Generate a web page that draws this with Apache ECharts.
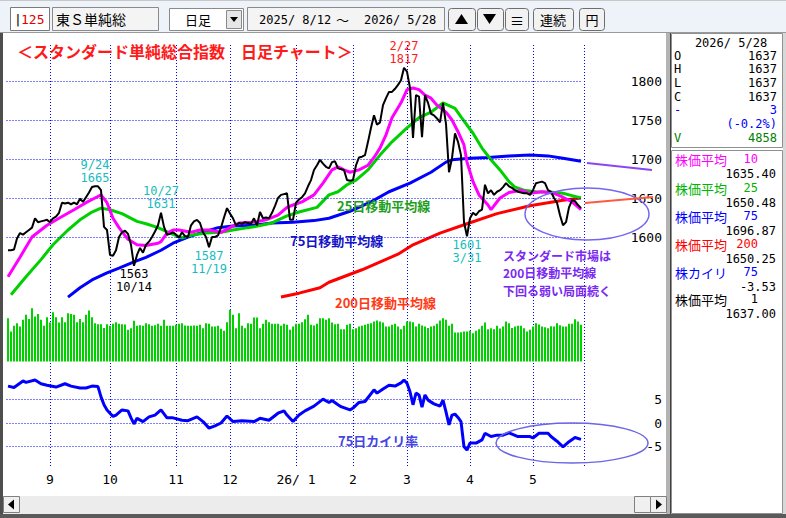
<!DOCTYPE html>
<html><head><meta charset="utf-8">
<script src="https://cdn.jsdelivr.net/npm/echarts@6/dist/echarts.min.js"></script>
<style>html,body{margin:0;padding:0;background:#fff;}#c{width:786px;height:518px;}</style>
</head><body><div id="c"></div>
<script>
// ---- trading days (categories) ----
const monthDays = [
 ['2025/8', [12,13,14,15,18,19,20,21,22,25,26,27,28,29]],
 ['2025/9', [1,2,3,4,5,8,9,10,11,12,16,17,18,19,22,24,25,26,29,30]],
 ['2025/10',[1,2,3,6,7,8,9,10,14,15,16,17,20,21,22,23,24,27,28,29,30,31]],
 ['2025/11',[4,5,6,7,10,11,12,13,14,17,18,19,20,21,25,26,27,28]],
 ['2025/12',[1,2,3,4,5,8,9,10,11,12,15,16,17,18,19,22,23,24,25,26,29,30]],
 ['2026/1', [5,6,7,8,9,13,14,15,16,19,20,21,22,23,26,27,28,29,30]],
 ['2026/2', [2,3,4,5,6,9,10,12,13,16,17,18,19,20,24,25,26,27]],
 ['2026/3', [2,3,4,5,6,9,10,11,12,13,16,17,18,19,23,24,25,26,27,30,31]],
 ['2026/4', [1,2,3,6,7,8,9,10,13,14,15,16,17,20,21,22,23,24,27,28,30]],
 ['2026/5', [1,7,8,11,12,13,14,15,18,19,20,21,22,25,26,27,28]]
];
const monthLabels = ['9','10','11','12','26/ 1','2','3','4','5'];
const priceTicks = [1600,1650,1700,1750,1800];
const devTicks = [5,0,-5];

// ---- close prices (one per trading day) ----
const close = [
1583,1583,1584,1598,1605,1603,1606,1609,1612,1624,
1619,1620,1621,1622,1619,1624,1626,1631,1644,1643,
1644,1642,1644,1642,1649,1645,1651,1657,1664,1665,
1665,1660,1613,1609,1577,1576,1583,1600,1606,1608,
1604,1590,1563,1577,1586,1580,1590,1594,1600,1607,
1615,1631,1613,1603,1604,1606,1603,1599,1606,1601,
1600,1615,1620,1622,1618,1606,1600,1587,1600,1600,
1602,1612,1625,1637,1630,1624,1615,1618,1617,1619,
1618,1617,1624,1615,1632,1624,1625,1624,1631,1640,
1650,1654,1655,1656,1622,1622,1644,1648,1651,1656,
1665,1673,1686,1692,1699,1694,1690,1688,1696,1697,
1688,1687,1686,1673,1672,1673,1692,1702,1703,1705,
1722,1740,1756,1744,1747,1769,1778,1786,1786,1790,
1795,1801,1817,1812,1791,1727,1782,1780,1728,1782,
1772,1758,1756,1752,1747,1772,1745,1683,1701,1733,
1722,1705,1619,1601,1624,1631,1628,1633,1635,1667,
1656,1660,1654,1658,1660,1664,1669,1665,1663,1660,
1658,1657,1656,1656,1654,1660,1669,1670,1671,1669,
1660,1658,1650,1644,1628,1615,1619,1638,1647,1646,
1641,1637];

// ---- moving averages [dayIndex, value] ----
const ma10 = [[0,1549],[4,1574],[8,1600],[13,1615],[17,1624],[22,1635],[26,1644],[29,1650],[31,1654],[33,1644],[35,1624],[37,1612],[40,1597],[43,1590],[46,1589],[50,1592],[51,1594],[53,1605],[55,1609],[57,1609],[61,1606],[64,1609],[67,1609],[71,1606],[74,1612],[77,1618],[82,1619],[86,1622],[90,1628],[93,1638],[95,1641],[98,1645],[102,1654],[105,1669],[108,1686],[110,1690],[112,1686],[114,1683],[117,1686],[120,1692],[122,1702],[124,1714],[126,1731],[128,1753],[131,1772],[133,1789],[135,1791],[137,1789],[139,1782],[141,1778],[143,1769],[146,1760],[148,1750],[150,1735],[152,1718],[153,1696],[155,1671],[157,1654],[160,1641],[161,1635],[164,1650],[167,1657],[171,1660],[174,1656],[178,1658],[182,1656],[185,1651],[188,1645],[191,1635]];
const ma25 = [[1,1526],[6,1549],[11,1571],[15,1590],[20,1609],[24,1622],[28,1632],[31,1637],[34,1635],[38,1630],[43,1620],[46,1617],[50,1612],[54,1605],[58,1599],[62,1603],[66,1605],[71,1606],[75,1609],[80,1612],[82,1613],[88,1618],[93,1627],[97,1632],[103,1638],[107,1654],[110,1658],[113,1667],[116,1673],[120,1686],[124,1705],[128,1722],[133,1740],[137,1753],[141,1760],[145,1772],[149,1765],[151,1754],[155,1733],[158,1714],[161,1699],[164,1686],[167,1671],[169,1664],[172,1660],[176,1658],[183,1657],[185,1656],[188,1653],[191,1650]];
const ma75 = [[20,1523],[24,1535],[28,1545],[33,1554],[37,1560],[42,1568],[46,1574],[51,1583],[55,1592],[60,1600],[64,1605],[70,1612],[75,1614],[82,1615],[88,1618],[95,1619],[102,1621],[107,1624],[114,1633],[121,1645],[127,1658],[134,1669],[141,1683],[146,1696],[148,1699],[154,1701],[160,1702],[167,1704],[174,1705],[180,1704],[185,1701],[191,1697]];
const ma200 = [[91,1523],[97,1528],[104,1535],[107,1542],[118,1558],[130,1578],[135,1590],[144,1605],[153,1617],[163,1630],[174,1640],[185,1647],[191,1650]];

// ---- volume ----
const volume = [
5720,3960,4710,5060,4620,5500,6160,5630,7040,5940,
6290,5500,4710,5850,5150,6510,5850,5150,5850,5190,
6380,6290,6160,5190,5630,5190,6160,6730,5850,5060,
4930,4930,4440,4930,4710,4970,5190,4970,4930,4880,
4180,4400,5370,4710,4800,4710,5060,4930,4710,4800,
4970,4710,5500,4710,4710,4710,4840,4970,5060,4750,
4710,4710,4750,4710,4840,4400,5060,4970,4620,4620,
4710,4310,4050,5190,6820,6160,4400,6380,4710,4400,
5060,4970,5810,5810,4400,4970,5500,5190,4970,4970,
4970,4710,4970,4840,4180,4620,4970,4970,5190,5590,
6160,4840,4750,4970,5720,5720,5500,
5720,5150,4930,4970,4270,4270,4840,4970,4270,4400,
4620,4710,4840,4970,5060,5280,5410,5280,5150,4620,
4620,4840,4970,4620,4270,4710,5280,5280,5190,4620,
4970,4750,4620,4440,4620,4710,4970,5410,5720,5500,
4710,4970,3830,3830,3870,3960,3960,4050,3740,4050,
4270,4710,5150,4270,4400,4270,4710,4360,4620,5280,
5060,4440,4620,4710,4710,4400,3960,4180,4620,5060,
4880,4620,4530,4400,4660,4620,5060,4800,4620,4620,
4970,4970,5590,5280,4858];

// ---- 75-day deviation (%) [dayIndex, value] ----
const dev75 = [[0,7.9],[2,7.6],[5,9.0],[6,8.7],[9,9.2],[11,8.4],[13,8.1],[16,7.7],[19,8.4],[21,7.9],[24,7.5],[26,7.5],[28,7.9],[30,7.8],[31,5.6],[32,3.9],[33,2.8],[35,1.4],[36,1.7],[38,2.8],[40,2.6],[41,1.1],[42,-0.2],[43,1.0],[45,0.3],[47,1.3],[49,1.7],[51,2.8],[53,1.1],[55,1.1],[58,0.6],[60,0.5],[63,1.3],[65,0.3],[67,-1.1],[69,-0.6],[71,0.0],[73,1.5],[75,0.3],[78,0.5],[82,0.3],[84,1.0],[87,0.6],[90,2.1],[92,2.6],[93,1.7],[95,0.3],[97,1.7],[99,2.6],[102,3.6],[105,5.1],[107,4.4],[108,4.8],[110,3.9],[111,3.5],[114,2.8],[115,3.2],[117,4.4],[119,4.6],[122,7.1],[123,6.4],[125,7.3],[127,8.1],[129,7.9],[131,8.6],[132,9.2],[133,8.5],[134,6.7],[135,3.9],[136,6.4],[137,6.0],[138,3.4],[139,6.0],[140,4.9],[142,4.1],[144,3.6],[145,4.9],[146,2.4],[147,-0.4],[148,1.7],[149,1.9],[150,1.2],[151,0.3],[152,-5.1],[153,-5.8],[154,-4.3],[156,-4.3],[158,-3.6],[159,-2.2],[161,-2.9],[163,-2.6],[165,-2.6],[167,-2.1],[170,-2.9],[172,-2.9],[174,-2.9],[175,-3.2],[177,-2.2],[180,-2.2],[181,-2.9],[183,-3.9],[185,-5.1],[187,-4.0],[189,-3.1],[191,-3.5]];

// ---- peak / trough notes ----
const notes = [
 {date:'2025/9/24',  lines:['9/24','1665'],  side:'top',    color:'#18bcbc'},
 {date:'2025/10/14', lines:['1563','10/14'], side:'bottom', color:'#000000'},
 {date:'2025/10/27', lines:['10/27','1631'], side:'top',    color:'#18bcbc'},
 {date:'2025/11/19', lines:['1587','11/19'], side:'bottom', color:'#18bcbc'},
 {date:'2026/2/27',  lines:['2/27','1817'],  side:'top',    color:'#ff1a1a'},
 {date:'2026/3/31',  lines:['1601','3/31'],  side:'bottom', color:'#18bcbc'}
];

// ---- build categories ----
const categories = [];
const monthStartIdx = [];
monthDays.forEach(([ym, ds], m) => {
  if (m > 0) monthStartIdx.push(categories.length);
  ds.forEach(d => categories.push(ym + '/' + d));
});

const JP = "'Noto Sans CJK JP', sans-serif";
const NUM = "'DejaVu Sans Mono', monospace";
const dotted = {color:'#0000ff', width:1, type:[1,2]};

const chart = echarts.init(document.getElementById('c'), null, {renderer:'svg', width:786, height:518});

function gridLines(vals){
  return {silent:true, symbol:['none','none'], animation:false, label:{show:false},
    lineStyle:dotted, emphasis:{disabled:true}, data: vals.map(v => ({yAxis:v}))};
}

const xBase = g => ({type:'category', gridIndex:g, data:categories, boundaryGap:true,
  axisLine:{show:false}, axisTick:{show:false}, axisLabel:{show:false}, splitLine:{show:false}});

const xAxes = [xBase(0), xBase(1), xBase(2), xBase(3)];
xAxes[0].show = false; xAxes[1].show = false;
xAxes[2].axisLabel = {show:true, interval:(i)=>monthStartIdx.includes(i),
  formatter:(v,i)=>monthLabels[monthStartIdx.indexOf(i)] || '',
  color:'#000', fontFamily:NUM, fontSize:13, margin:3};
xAxes[3].splitLine = {show:true, interval:(i)=>monthStartIdx.includes(i), lineStyle:dotted};

const option = {
  animation:false,
  backgroundColor:'#ffffff',
  grid:[
    {left:6.5, width:576, top:42, height:273},
    {left:6.5, width:576, top:305.1, height:56.4},
    {left:6.5, width:576, top:376.3, height:93.4},
    {left:8, width:576, top:45, height:422}
  ],
  xAxis:xAxes,
  yAxis:[
    {type:'value', gridIndex:0, position:'right', min:1500, max:1850, interval:50,
     axisLine:{show:false}, axisTick:{show:false}, splitLine:{show:false},
     axisLabel:{formatter:v=>priceTicks.includes(v)?String(v):'', align:'right', margin:79.5,
       color:'#000', fontFamily:NUM, fontSize:13}},
    {type:'value', gridIndex:1, min:0, max:7450, show:false},
    {type:'value', gridIndex:2, position:'right', min:-10, max:10, interval:5,
     axisLine:{show:false}, axisTick:{show:false}, splitLine:{show:false},
     axisLabel:{formatter:v=>devTicks.includes(v)?String(v):'', align:'right', margin:79.5,
       color:'#000', fontFamily:NUM, fontSize:13}},
    {type:'value', gridIndex:3, min:0, max:1, show:false}
  ],
  series:[
    {type:'bar', name:'volume', xAxisIndex:1, yAxisIndex:1, data:volume, barWidth:2,
     itemStyle:{color:'#00d200'}, silent:true},
    {type:'line', name:'ma200', xAxisIndex:0, yAxisIndex:0, data:ma200, showSymbol:false, symbol:'none',
     lineStyle:{color:'#ff0000', width:3}, silent:true, z:2},
    {type:'line', name:'ma75', xAxisIndex:0, yAxisIndex:0, data:ma75, showSymbol:false, symbol:'none',
     lineStyle:{color:'#0000ff', width:3}, silent:true, z:3},
    {type:'line', name:'ma25', xAxisIndex:0, yAxisIndex:0, data:ma25, showSymbol:false, symbol:'none',
     lineStyle:{color:'#00d000', width:3}, silent:true, z:4},
    {type:'line', name:'ma10', xAxisIndex:0, yAxisIndex:0, data:ma10, showSymbol:false, symbol:'none',
     lineStyle:{color:'#ff00ff', width:3}, silent:true, z:5},
    {type:'line', name:'close', xAxisIndex:0, yAxisIndex:0, data:close, showSymbol:false, symbol:'none',
     lineStyle:{color:'#000000', width:2}, silent:true, z:6,
     markLine:gridLines(priceTicks),
     markPoint:{symbol:'circle', symbolSize:0, silent:true,
       data:notes.map(n=>({coord:[n.date, close[categories.indexOf(n.date)]],
         label:{show:true, position:n.side, distance:2, formatter:n.lines.join('\n'),
           color:n.color, fontFamily:NUM, fontSize:12, lineHeight:13, align:'center'}}))}},
    {type:'line', name:'dev75', xAxisIndex:2, yAxisIndex:2, data:dev75, showSymbol:false, symbol:'none',
     lineStyle:{color:'#0000ff', width:3}, silent:true, z:5,
     markLine:gridLines(devTicks)}
  ],
  graphic:[]
};

// ---------- frame / toolbar / panels ----------
const G = option.graphic;
const T = (x,y,text,font,fill,align,extra) => G.push(Object.assign({type:'text', x:x, y:y, z:100,
  style:{text:text, font:font, fill:fill, align:align||'left', verticalAlign:'middle'}}, extra||{}));
const R = (x,y,w,h,fill,stroke,lw,z) => G.push({type:'rect', z:z||50, shape:{x:x,y:y,width:w,height:h},
  style:{fill:fill, stroke:stroke||null, lineWidth:lw||1}});
const L = (x1,y1,x2,y2,stroke,lw,z) => G.push({type:'line', z:z||60, shape:{x1:x1,y1:y1,x2:x2,y2:y2},
  style:{stroke:stroke, lineWidth:lw||1}});
const P = (pts,fill,z) => G.push({type:'polygon', z:z||101, shape:{points:pts}, style:{fill:fill}});

// toolbar
R(0,0,786,32,'#eef2f9');
L(0,32.5,786,32.5,'#9a9a9a',1);
L(0,0.5,786,0.5,'#c8c8c8',1);
// 125 box
R(10.5,7.5,39,23,'#ffffff','#7a7a7a');
T(14,19,'|',"13px "+NUM,'#000');
T(21,19,'125',"13px "+NUM,'#e00000');
// name box
R(52.5,7.5,106,23,'#f4f4f4','#8a8a8a');
T(56,19,'東Ｓ単純総',"14px "+JP,'#000');
// dropdown
R(169.5,8.5,74,22,'#ffffff','#8a8a8a');
T(185,19.5,'日足',"13px "+JP,'#000');
R(226.5,10.5,15,18,'#e6e6e6','#8a8a8a');
P([[230,17],[238,17],[234,22]],'#000');
// date box
R(247.5,7.5,197,23,'#f4f4f4','#8a8a8a');
T(259,19.5,'2025/ 8/12',"12px "+NUM,'#000');
T(336,19.5,'～',"13px "+JP,'#000');
T(364,19.5,'2026/ 5/28',"12px "+NUM,'#000');
// buttons
const btn = (x,w) => G.push({type:'rect', z:50, shape:{x:x+0.5,y:8.5,width:w,height:22,r:3},
  style:{fill:'#f2f2f2', stroke:'#6e6e6e', lineWidth:1}});
btn(448,27); P([[455,24],[468,24],[461.5,14]],'#000');
btn(477,26); P([[483,14],[496,14],[489.5,24]],'#000');
btn(505,23); T(517,19.5,'≡',"14px "+JP,'#000','center');
btn(533,40); T(553,19.5,'連続',"13px "+JP,'#000','center');
btn(579,25); T(592,19.5,'円',"13px "+JP,'#000','center');

// outer frame
R(0,33,3,485,'#4e4e4e');
R(0,514,786,4,'#5a5a5a');
R(666,33,4,481,'#b4b4b4');
L(670.5,33,670.5,514,'#404040',1);
R(783,33,3,481,'#d8d8d8');

// right panel box 1
R(671.5,33.5,111,114,'#ffffff','#909090');
T(731,43,'2026/ 5/28',"12px "+NUM,'#000','center');
const rows1 = [['O',56,'1637','#000'],['H',69,'1637','#000'],['L',83,'1637','#000'],['C',97,'1637','#000'],
  ['-',110,'3','#0000ff'],['',124,'(-0.2%)','#0000ff'],['V',138,'4858','#008000']];
rows1.forEach(r => { if (r[0]) T(674,r[1],r[0],"12px "+NUM,r[3]); T(777,r[1],r[2],"12px "+NUM,r[3],'right'); });
// right panel box 2
R(671.5,150.5,111,363,'#ffffff','#909090');
const rows2 = [['株価平均','10','1635.40','#ff00ff',159],['株価平均','25','1650.48','#00b400',188],
  ['株価平均','75','1696.87','#0000ff',216],['株価平均','200','1650.25','#ff0000',244],
  ['株カイリ','75','-3.53','#0000ff',272],['株価平均','1','1637.00','#000000',299]];
rows2.forEach(r => {
  T(675,r[4],r[0],"13px "+JP,r[3]);
  T(758,r[4],r[1],"12px "+NUM,r[3],'right');
  T(776,r[4]+14.5,r[2],"12px "+NUM,'#000','right');
});

// scrollbar
R(3,496,663,18,'#ececec');
R(3.5,496.5,16,16,'#f0f0f0','#808080');
P([[8,504.5],[14,499.5],[14,509.5]],'#000');
R(634.5,496.5,16,16,'#f0f0f0','#808080');
R(650.5,496.5,16,16,'#f0f0f0','#808080');
P([[656,499.5],[656,509.5],[662,504.5]],'#000');

// ---------- annotations ----------
T(17,51,'＜スタンダード単純総合指数　日足チャート＞',"bold 16px "+JP,'#ff1a1a');
T(337,205,'25日移動平均線',"bold 13px "+JP,'#1e9e1e');
T(290,240,'75日移動平均線',"bold 13px "+JP,'#1414c8');
T(335,302,'200日移動平均線',"bold 13px "+JP,'#ff3a14');
T(503,255,'スタンダード市場は',"bold 12px "+JP,'#7a2af0');
T(503,272.5,'200日移動平均線',"bold 12px "+JP,'#7a2af0');
T(503,290,'下回る弱い局面続く',"bold 12px "+JP,'#7a2af0');
T(338,440,'75日カイリ率',"bold 13px "+JP,'#4444e4');
G.push({type:'ellipse', z:90, shape:{cx:587,cy:214,rx:62,ry:26}, style:{fill:'none', stroke:'#7466f0', lineWidth:1.5}});
G.push({type:'ellipse', z:90, shape:{cx:572,cy:443,rx:76,ry:20}, style:{fill:'none', stroke:'#6a66e6', lineWidth:1.5}});
L(587,163,652,170,'#8a46f2',2,90);
L(585,203,653,197,'#ff5a40',2,90);

chart.setOption(option);
</script></body></html>
